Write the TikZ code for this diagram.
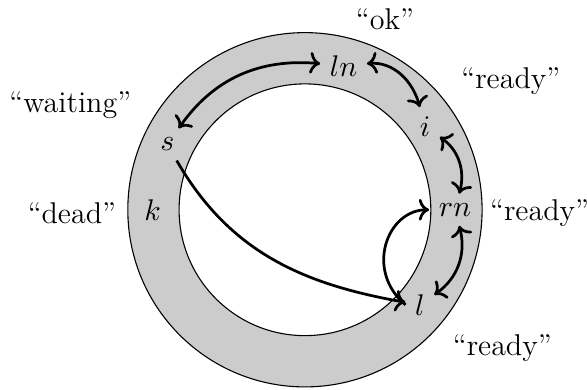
\documentclass[tikz,border=0pt]{standalone}
\usepackage{tikz}
\usetikzlibrary{arrows.meta, positioning}

\begin{document}
\begin{tikzpicture}[
    ring/.style={fill=gray!40, draw=black, even odd rule},
    state/.style={inner sep=3.333pt, font=\fontsize{11}{13}\selectfont},
    tag/.style={inner sep=1pt, font=\fontsize{11}{13}\selectfont},
    link/.style={<->, line width=1pt},
    hop/.style={->, line width=1pt},
]
\useasboundingbox (-3.925, -2.317) rectangle (3.63, 2.70);
\path[ring] (0, 0) circle (2.28) (0, 0) circle (1.62);
% states on the ring
\node[state] (ln) at (75:1.92)    {$ln$};
\node[state] (i)  at (34.7:1.88)  {$i$};
\node[state] (rn) at (0:1.93)     {$rn$};
\node[state] (l)  at (-39.6:1.92) {$l$};
\node[state] (k)  at (180:1.96)   {$k$};
\node[state] (s)  at (154.6:1.96) {$s$};
% what each state says
\node[tag] (okTag)      at (1.03, 2.45)   {``ok''};
\node[tag] (readyTop)   at (2.65, 1.65)   {``ready''};
\node[tag] (readyMid)   at (3.02, -0.04)  {``ready''};
\node[tag] (readyLow)   at (2.54, -1.78)  {``ready''};
\node[tag] (waitingTag) at (-3.02, 1.35)  {``waiting''};
\node[tag] (deadTag)    at (-3.0, -0.04)  {``dead''};
\draw[link] (s) to[out=55, in=175] (ln);
\draw[link] (ln) to[out=5, in=105] (i);
\draw[link] (i) to[out=-35, in=75] (rn);
\draw[link] (rn) to[out=-75, in=35] (l);
\draw[hop] (s) to[out=-60, in=170] (l);
\draw[hop] (l.west) to[out=140, in=180, out looseness=1.4, in looseness=1.1] (rn);
\end{tikzpicture}
\end{document}
